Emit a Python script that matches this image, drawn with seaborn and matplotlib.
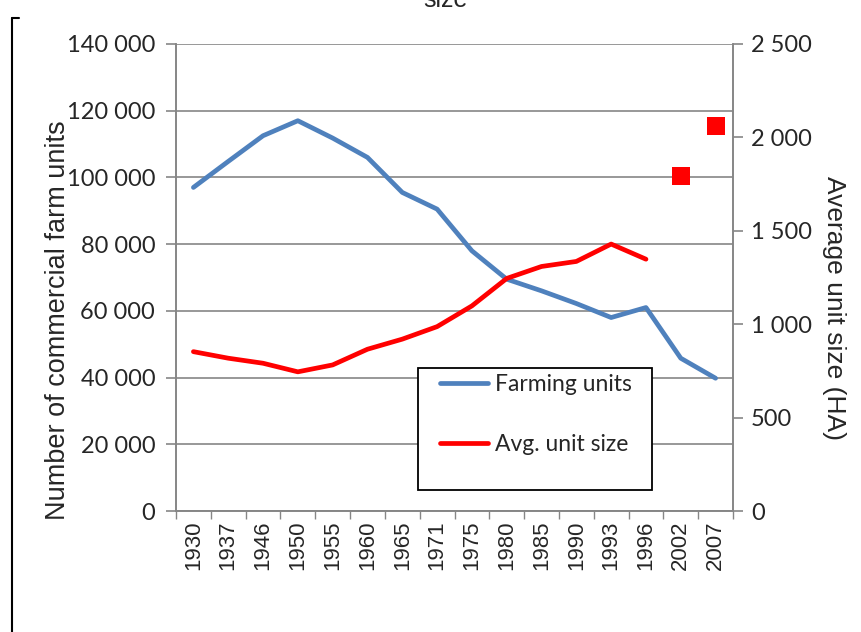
import matplotlib
matplotlib.use("Agg")
import matplotlib.pyplot as plt
import seaborn as sns
import pandas as pd
import numpy as np
from matplotlib.lines import Line2D
from matplotlib.patches import Rectangle
from matplotlib.ticker import FuncFormatter, MultipleLocator, FixedLocator

years = ["1930", "1937", "1946", "1950", "1955", "1960", "1965", "1971",
         "1975", "1980", "1985", "1990", "1993", "1996", "2002", "2007"]
farming_units = [97000, 104800, 112500, 117000, 111800, 106000, 95500, 90500,
                 78000, 69500, 66000, 62200, 58000, 61000, 45800, 39800]
avg_unit_size = [853, 818, 791, 745, 782, 866, 920, 987,
                 1098, 1245, 1309, 1336, 1429, 1348, None, None]
avg_unit_size_points = [None] * 14 + [1795, 2059]

df = pd.DataFrame({
    "pos": np.arange(len(years)),
    "year": years,
    "farming": farming_units,
    "avg": pd.array(avg_unit_size, dtype="Float64").astype(float),
    "avg_pts": pd.array(avg_unit_size_points, dtype="Float64").astype(float),
})

sns.set_theme(style="white")
plt.rcParams["font.family"] = ["Liberation Sans", "DejaVu Sans"]

W, H = 861, 632
fig = plt.figure(figsize=(W / 100, H / 100), dpi=100)
L, R, T, B = 176, 733, 44, 511
ax = fig.add_axes([L / W, 1 - B / H, (R - L) / W, (B - T) / H])
ax2 = ax.twinx()

blue = "#4F81BD"
red = "#FF0000"
grid_c = "#868686"

sns.lineplot(data=df, x="pos", y="farming", ax=ax, color=blue, linewidth=3.4,
             legend=False)
sns.lineplot(data=df.dropna(subset=["avg"]), x="pos", y="avg", ax=ax2, color=red,
             linewidth=3.4, legend=False)
sns.scatterplot(data=df.dropna(subset=["avg_pts"]), x="pos", y="avg_pts", ax=ax2,
                color=red, marker="s", s=150, edgecolor=red, linewidth=0, legend=False)

n = len(years)
ax.set_xlim(-0.5, n - 0.5)
ax.set_ylim(0, 140000)
ax2.set_ylim(0, 2500)

fmt = FuncFormatter(lambda v, p: f"{int(v):,}".replace(",", " "))
ax.yaxis.set_major_locator(MultipleLocator(20000))
ax.yaxis.set_major_formatter(fmt)
ax2.yaxis.set_major_locator(MultipleLocator(500))
ax2.yaxis.set_major_formatter(fmt)

ax.set_xticks(np.arange(n))
ax.set_xticklabels(years, rotation=90, fontsize=16, family=["Liberation Sans"])
ax.xaxis.set_minor_locator(FixedLocator(np.arange(-0.5, n, 1.0)))
ax.tick_params(axis="x", which="major", length=0, pad=7)
ax.tick_params(axis="x", which="minor", length=6, width=1, color=grid_c, bottom=True)

ax.grid(axis="y", color=grid_c, linewidth=1.2)
ax.set_axisbelow(True)
ax2.grid(False)

for a in (ax, ax2):
    for s in a.spines.values():
        s.set_color(grid_c)
        s.set_linewidth(1.2)
    a.spines["top"].set_visible(False)
    a.set_xlabel("")

ax.tick_params(axis="y", which="major", length=7, width=1.2, color=grid_c, left=True,
               labelsize=17, pad=8)
ax2.tick_params(axis="y", which="major", length=7, width=1.2, color=grid_c, right=True,
                labelsize=17, pad=6)
for lab in ax.get_yticklabels() + ax2.get_yticklabels():
    lab.set_family(["Lato", "DejaVu Sans"])

ax.set_ylabel("Number of commercial farm units", fontsize=19.5, va="center")
ax.yaxis.set_label_coords((58 - L) / (R - L), (B - 320) / (B - T))
ax2.set_ylabel("Average unit size (HA)", fontsize=19, rotation=-90, va="center")
ax2.yaxis.set_label_coords((834 - L) / (R - L), (B - 308) / (B - T))

# legend frame (Excel style, fixed box)
ax.add_patch(Rectangle(((418 - L) / (R - L), (B - 490) / (B - T)),
                       (652 - 418) / (R - L), (490 - 368) / (B - T),
                       transform=ax.transAxes, facecolor="white", edgecolor="black",
                       linewidth=1.3, zorder=9, clip_on=False))
handles = [Line2D([], [], color=blue, linewidth=3.4, solid_capstyle="round"),
           Line2D([], [], color=red, linewidth=3.4, solid_capstyle="round")]
leg = ax.legend(handles, ["Farming units", "Avg. unit size"],
                loc="upper left", bbox_to_anchor=((440 - L) / (R - L), (B - 374) / (B - T)),
                frameon=False,
                prop={"family": ["Lato", "DejaVu Sans"], "size": 16.5},
                handlelength=2.1, handletextpad=0.3, labelspacing=1.7,
                borderpad=0, borderaxespad=0)
leg.set_zorder(10)

fig.text(0.517, 1 - 7 / H, "size", ha="center", va="baseline", fontsize=18)
fig.add_artist(Line2D([12 / W, 12 / W], [0, 1 - 18 / H], color="black",
                      linewidth=1.5, transform=fig.transFigure))
fig.add_artist(Line2D([12 / W, 19 / W], [1 - 18 / H, 1 - 18 / H], color="black",
                      linewidth=1.5, transform=fig.transFigure))

fig.savefig("out.png", dpi=100)
